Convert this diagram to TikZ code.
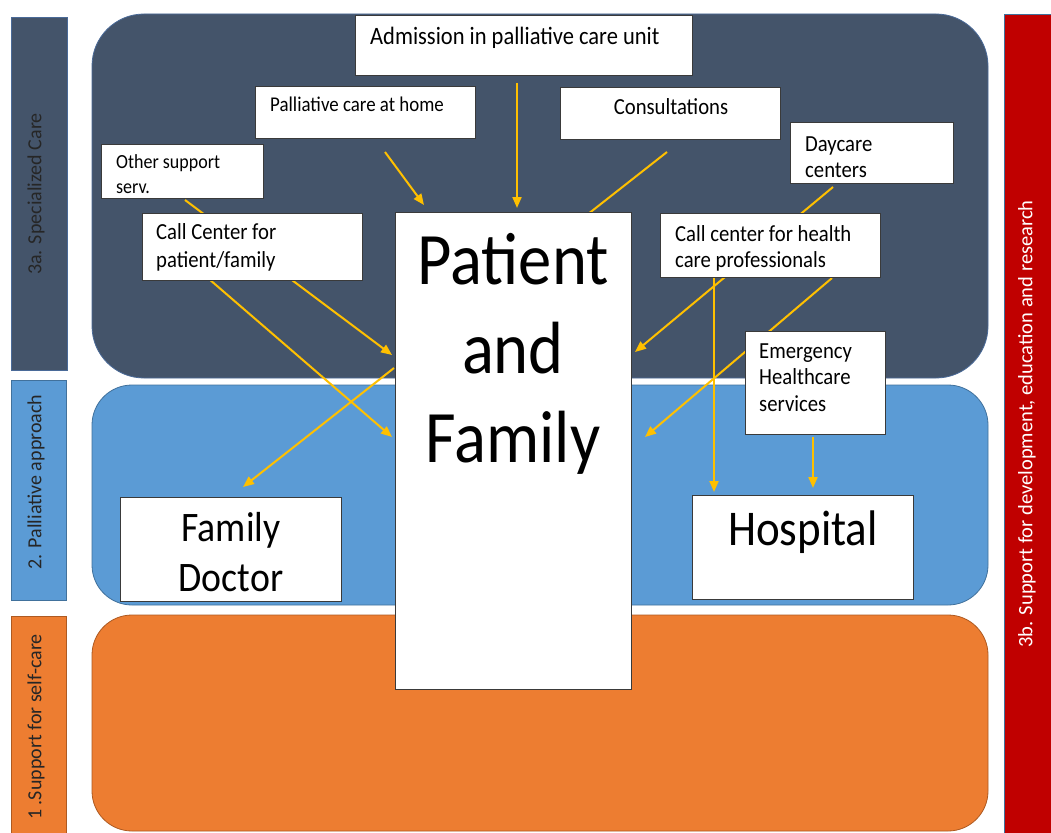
\documentclass[tikz,border=0pt]{standalone}
\usepackage{fontspec}
\setmainfont{Carlito}[FakeStretch=0.9]
\newfontfamily\plainfont{Carlito}
\usetikzlibrary{arrows.meta}
\definecolor{darkc}{HTML}{44546A}
\definecolor{bluec}{HTML}{5B9BD5}
\definecolor{orangec}{HTML}{ED7D31}
\definecolor{redc}{HTML}{C00000}
\definecolor{arrowc}{HTML}{FFC000}
\definecolor{boxline}{HTML}{3A3A3A}
\definecolor{labc}{HTML}{262626}
\definecolor{blueline}{HTML}{41719C}
\definecolor{orangeline}{HTML}{AE5A21}
\definecolor{darkline}{HTML}{4A6A98}
\newcommand\fz[2]{\fontsize{#1}{#2}\selectfont}
\newcommand\tl[1]{\begin{tabular}[t]{@{}l@{}}#1\end{tabular}}
\newcommand\tc[1]{\begin{tabular}[t]{@{}c@{}}#1\end{tabular}}
\begin{document}
\begin{tikzpicture}[x=1pt,y=-1pt,
  wbox/.style={draw=boxline, fill=white, line width=1.1pt, inner sep=0pt, anchor=north west},
  conn/.style={draw=arrowc, line width=2pt},
  arr/.style={conn, -{Triangle[length=11pt,width=9pt]}},
  txt/.style={inner sep=0pt, text=black},
  barlab/.style={rotate=90, inner sep=0pt, text=labc, font=\plainfont\fz{20}{24}},
]
\useasboundingbox[fill=white] (0,0) rectangle (1051,832);

% side bars
\node[draw=darkline, fill=darkc, line width=1pt, minimum width=56pt, minimum height=353pt, anchor=north west, inner sep=0pt] (bar3a) at (11,17) {};
\node[draw=blueline, fill=bluec, line width=1pt, minimum width=55pt, minimum height=220pt, anchor=north west, inner sep=0pt] (bar2) at (11,380) {};
\node[draw=orangeline, fill=orangec, line width=1pt, minimum width=55pt, minimum height=220pt, anchor=north west, inner sep=0pt] (bar1) at (11,616) {};
\node[draw=blueline, fill=redc, line width=1pt, minimum width=48pt, minimum height=822pt, anchor=north west, inner sep=0pt] (bar3b) at (1004,14) {};
\node[barlab] (l3a) at (36,194) {3a. Specialized Care};
\node[barlab] (l2) at (36,482) {2. Palliative approach};
\node[barlab] (l1) at (36,727) {1 .Support for self-care};
\node[barlab, text=white, font=\plainfont\fz{20.5}{24}] (l3b) at (1027,424) {3b. Support for development, education and research};

% layers
\draw[fill=darkc, draw=darkline, line width=0.8pt, rounded corners=52pt] (92,14) rectangle (988,378);
\draw[fill=bluec, draw=blueline, line width=0.8pt, rounded corners=40pt] (92,385) rectangle (988,605);
\draw[fill=orangec, draw=orangeline, line width=0.8pt, rounded corners=40pt] (92,615) rectangle (988,831);

% connector end points
\coordinate (a1s) at (517,83);  \coordinate (a1e) at (517,208);
\coordinate (a2s) at (385,152); \coordinate (a2e) at (424,205);
\coordinate (a3s) at (667,152); \coordinate (a3e) at (583,218);
\coordinate (a4s) at (185,200); \coordinate (a4e) at (392,355);
\coordinate (a5s) at (209,279); \coordinate (a5e) at (392,437);
\coordinate (a6s) at (833,187); \coordinate (a6e) at (635,352);
\coordinate (a7s) at (832,278); \coordinate (a7e) at (645,437);
\coordinate (a8s) at (714,278); \coordinate (a8e) at (714,492);
\coordinate (a9s) at (813,437); \coordinate (a9e) at (813,488);
\coordinate (a10s) at (394,368); \coordinate (a10e) at (243,487);

\draw[arr] (a1s) -- (a1e);
\draw[arr] (a2s) -- (a2e);
\draw[conn] (a3s) -- (a3e);
\draw[arr] (a4s) -- (a4e);
\draw[arr] (a5s) -- (a5e);
\draw[arr] (a6s) -- (a6e);
\draw[arr] (a7s) -- (a7e);
\draw[arr] (a8s) -- (a8e);
\draw[arr] (a9s) -- (a9e);
\draw[arr] (a10s) -- (a10e);

% white boxes
\node[wbox, minimum width=337pt, minimum height=60pt] (adm) at (355,15) {};
\node[wbox, minimum width=220pt, minimum height=52pt] (home) at (255,86) {};
\node[wbox, minimum width=220pt, minimum height=52pt] (cons) at (560,87) {};
\node[wbox, minimum width=162pt, minimum height=54pt] (other) at (101,144) {};
\node[wbox, minimum width=220pt, minimum height=67pt] (callpf) at (142,213) {};
\node[wbox, minimum width=163pt, minimum height=61pt] (day) at (790,122) {};
\node[wbox, minimum width=220pt, minimum height=64pt] (callhp) at (660,213) {};
\node[wbox, minimum width=140pt, minimum height=103pt] (emer) at (745,331) {};
\node[wbox, minimum width=236pt, minimum height=477pt] (pf) at (395,212) {};
\node[wbox, minimum width=221pt, minimum height=104pt] (doc) at (120,497) {};
\node[wbox, minimum width=221pt, minimum height=104pt] (hosp) at (692,495) {};

% texts
\node[txt, anchor=base west, font=\fz{25}{30}] (tadm) at (370,45) {Admission in palliative care unit};
\node[txt, anchor=base west, font=\fz{21}{25}] (thome) at (270,111) {Palliative care at home};
\node[txt, anchor=base, font=\fz{23}{27}] (tcons) at (671,114) {Consultations};
\node[txt, anchor=base west, font=\fz{20}{25}] (tother) at (116,168) {\tl{Other support\\serv.}};
\node[txt, anchor=base west, font=\fz{23}{28}] (tcallpf) at (156,239) {\tl{Call Center for\\patient/family}};
\node[txt, anchor=base west, font=\fz{23}{26}] (tday) at (805,151) {\tl{Daycare\\centers}};
\node[txt, anchor=base west, font=\fz{23}{26}] (tcallhp) at (675,241) {\tl{Call center for health\\care professionals}};
\node[txt, anchor=base west, font=\fz{23}{26.5}] (temer) at (759,358) {\tl{Emergency\\Healthcare\\services}};
\node[txt, anchor=base, font=\fz{74}{89}] (tpf) at (513,284) {\tc{Patient\\and\\Family}};
\node[txt, anchor=base, font=\fz{42}{50}] (tdoc) at (231,541) {\tc{Family\\Doctor}};
\node[txt, anchor=base, font=\fz{50}{60}] (thosp) at (803,545) {Hospital};
\end{tikzpicture}
\end{document}
